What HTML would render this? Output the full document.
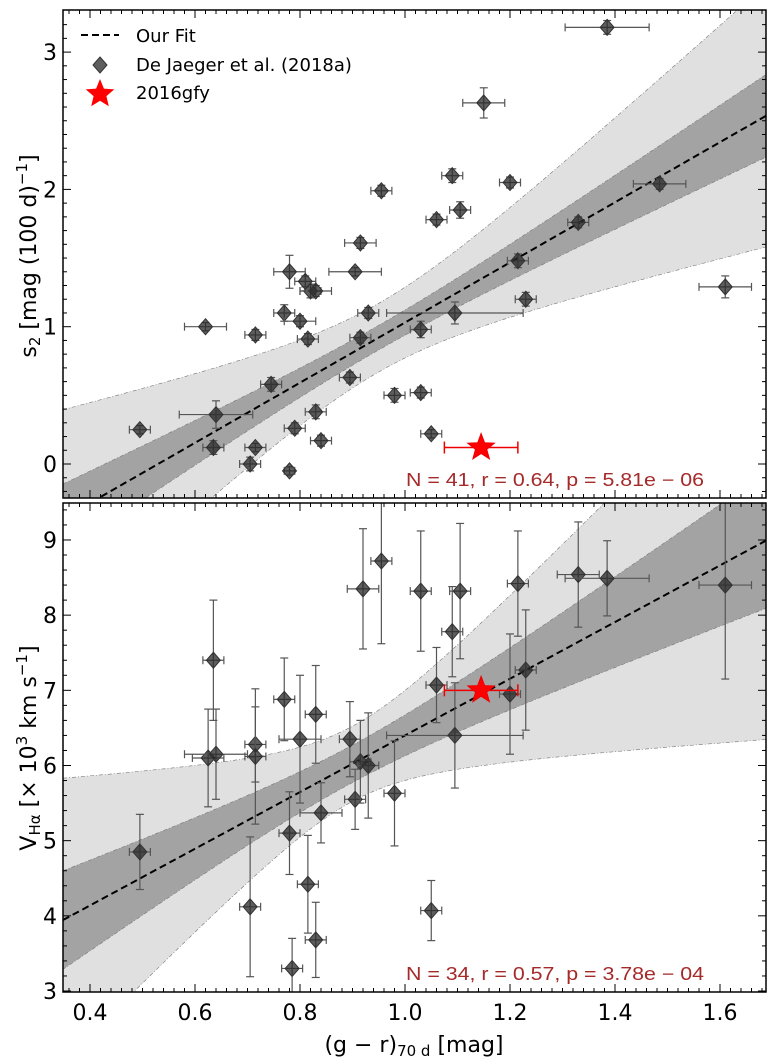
<!DOCTYPE html>
<html><head><meta charset="utf-8"><style>
body{margin:0;background:#fff;}
svg{display:block;font-family:"DejaVu Sans","Liberation Sans",sans-serif;}
</style></head><body>
<svg id="chart" width="771" height="1059" xmlns="http://www.w3.org/2000/svg"></svg>
<script>
// ---- data ----
const topX=[0.495,0.62,0.635,0.64,0.705,0.715,0.715,0.745,0.77,0.78,0.78,0.79,0.80,0.81,0.815,0.82,0.83,0.83,0.84,0.895,0.905,0.915,0.915,0.93,0.955,0.98,1.03,1.03,1.05,1.06,1.09,1.095,1.105,1.15,1.20,1.215,1.23,1.33,1.385,1.485,1.61];
const topY=[0.25,1.0,0.12,0.36,0.0,0.12,0.94,0.58,1.1,1.4,-0.05,0.26,1.04,1.33,0.91,1.26,0.38,1.26,0.17,0.63,1.4,0.92,1.61,1.1,1.99,0.5,0.98,0.52,0.22,1.78,2.1,1.1,1.85,2.63,2.05,1.48,1.2,1.76,3.18,2.04,1.29];
const topXerr=[0.02,0.04,0.02,0.07,0.02,0.02,0.02,0.02,0.02,0.03,0.01,0.02,0.03,0.02,0.02,0.02,0.02,0.03,0.02,0.02,0.05,0.02,0.03,0.02,0.02,0.02,0.02,0.02,0.02,0.02,0.02,0.13,0.02,0.04,0.02,0.02,0.02,0.02,0.08,0.05,0.05];
const topYerr=[0.03,0.03,0.05,0.1,0.05,0.03,0.04,0.05,0.06,0.12,0.03,0.04,0.04,0.04,0.04,0.05,0.05,0.04,0.04,0.04,0.03,0.04,0.04,0.04,0.04,0.05,0.06,0.04,0.03,0.04,0.05,0.08,0.06,0.11,0.04,0.05,0.05,0.04,0.05,0.04,0.08];
const botX=[0.495,0.625,0.635,0.64,0.705,0.715,0.715,0.77,0.78,0.785,0.80,0.815,0.83,0.83,0.84,0.895,0.905,0.915,0.92,0.93,0.955,0.98,1.03,1.05,1.06,1.09,1.095,1.105,1.20,1.215,1.23,1.33,1.385,1.61];
const botY=[4.85,6.1,7.4,6.15,4.12,6.28,6.12,6.88,5.1,3.3,6.35,4.42,3.68,6.68,5.37,6.35,5.55,6.05,8.35,6.0,8.72,5.63,8.32,4.07,7.07,7.78,6.4,8.32,6.95,8.42,7.27,8.54,8.49,8.4];
const botXerr=[0.02,0.03,0.02,0.06,0.02,0.02,0.02,0.02,0.02,0.02,0.04,0.02,0.02,0.02,0.04,0.02,0.02,0.02,0.03,0.02,0.02,0.02,0.02,0.02,0.02,0.02,0.13,0.02,0.02,0.02,0.02,0.04,0.08,0.05];
const botYerr=[0.5,0.65,0.8,0.6,0.93,0.5,0.9,0.55,0.55,0.4,0.85,0.65,0.5,0.65,0.4,0.5,0.4,0.55,0.8,0.7,1.1,0.7,0.8,0.4,0.5,0.6,0.7,0.9,0.8,0.7,0.8,0.7,0.5,1.25];
const starTop=[1.145,0.12,0.07];
const starBot=[1.145,7.0,0.07];
const xTicks=[0.4,0.6,0.8,1.0,1.2,1.4,1.6];
const xTickLabels=["0.4","0.6","0.8","1.0","1.2","1.4","1.6"];
const topTicks=[0,1,2,3];
const botTicks=[3,4,5,6,7,8,9];
const topFit=[2.19,-1.16]; // slope, intercept
const botFit=[3.77,2.63];

// ---- layout ----
const NS="http://www.w3.org/2000/svg";
const svg=document.getElementById('chart');
const L=63,R=766;
const xs=v=>90+(v-0.4)*525;
const xmin=0.4-27/525, xmax=0.4+(R-90)/525;
const P1={t:10,b:498,ys:v=>464-v*137.3};
const P2={t:503,b:992,ys:v=>991-(v-3)*75.17};
function el(tag,attrs,parent){const e=document.createElementNS(NS,tag);for(const k in attrs)e.setAttribute(k,attrs[k]);(parent||svg).appendChild(e);return e;}

function drawPanel(P,name,X,Y,XE,YE,star,fit,yticks,yminor,ymin,ymax,bands,statText){
  const g=el('g',{});
  
  
  const clipId=name+'clip';
  const cp=el('clipPath',{id:clipId},g);el('rect',{x:L,y:P.t,width:R-L,height:P.b-P.t},cp);
  const pg=el('g',{'clip-path':'url(#'+clipId+')'},g);
  const xm=bands[4];
  function band(c0,k,fill){
    let up=[],lo=[];
    for(let i=0;i<=100;i++){const x=xmin+(xmax-xmin)*i/100;const y=fit[0]*x+fit[1];const h=Math.sqrt(c0*c0+(k*(x-xm))**2);up.push([xs(x),P.ys(y+h)]);lo.push([xs(x),P.ys(y-h)]);}
    const pts=up.concat(lo.reverse()).map(p=>p.join(',')).join(' ');
    const b=el('polygon',{points:pts,fill:fill,stroke:'#777','stroke-width':0.6,'stroke-dasharray':'4,2,1,2'},pg);
    
    
  }
  band(bands[0],bands[1],'#e0e0e0');
  band(bands[2],bands[3],'#a3a3a3');
  const fl=el('line',{x1:xs(xmin),y1:P.ys(fit[0]*xmin+fit[1]),x2:xs(xmax),y2:P.ys(fit[0]*xmax+fit[1]),stroke:'#000','stroke-width':2,'stroke-dasharray':'7,4'},pg);
  
  
  for(let i=0;i<X.length;i++){
    const cx=xs(X[i]),cy=P.ys(Y[i]);
    const eg=el('g',{stroke:'#555','stroke-width':1.2,fill:'none'},pg);
    
    
    const x1=xs(X[i]-XE[i]),x2=xs(X[i]+XE[i]),y1=P.ys(Y[i]-YE[i]),y2=P.ys(Y[i]+YE[i]);
    el('line',{x1:x1,y1:cy,x2:x2,y2:cy},eg);el('line',{x1:cx,y1:y1,x2:cx,y2:y2},eg);
    el('line',{x1:x1,y1:cy-4,x2:x1,y2:cy+4},eg);el('line',{x1:x2,y1:cy-4,x2:x2,y2:cy+4},eg);
    el('line',{x1:cx-4,y1:y1,x2:cx+4,y2:y1},eg);el('line',{x1:cx-4,y1:y2,x2:cx+4,y2:y2},eg);
    const d=el('polygon',{points:`${cx},${cy-8} ${cx+7},${cy} ${cx},${cy+8} ${cx-7},${cy}`,fill:'rgba(40,40,40,0.75)',stroke:'#333','stroke-width':1},pg);
    
    
  }
  const sx=xs(star[0]),sy=P.ys(star[1]);
  const sg=el('g',{stroke:'#e00','stroke-width':1.5},pg);
  el('line',{x1:xs(star[0]-star[2]),y1:sy,x2:xs(star[0]+star[2]),y2:sy},sg);
  el('line',{x1:xs(star[0]-star[2]),y1:sy-6,x2:xs(star[0]-star[2]),y2:sy+6},sg);
  el('line',{x1:xs(star[0]+star[2]),y1:sy-6,x2:xs(star[0]+star[2]),y2:sy+6},sg);
  const st=el('polygon',{points:starPts(sx,sy,14),fill:'#f00',stroke:'#e00'},pg);
  
  
  const tx=el('text',{x:406,y:P.b-12,'font-size':18,fill:'#a52a2a',textLength:298,lengthAdjust:'spacingAndGlyphs','font-family':'Liberation Sans, sans-serif'},g);
  tx.textContent=statText;
  
  
  const tg=el('g',{stroke:'#000','stroke-width':1},g);
  for(let v=0.36;v<=xmax+1e-9;v+=0.02){const x=xs(v);const major=Math.abs(Math.round(v*10)/10-v)<1e-6&&Math.round(v*10)%2==0;const len=major?8:4;
    el('line',{x1:x,y1:P.b,x2:x,y2:P.b-len},tg);el('line',{x1:x,y1:P.t,x2:x,y2:P.t+len},tg);}
  for(let v=Math.ceil(ymin/yminor)*yminor;v<=ymax;v+=yminor){const y=P.ys(v);const major=Math.abs(v-Math.round(v))<1e-6;const len=major?8:4;
    el('line',{x1:L,y1:y,x2:L+len,y2:y},tg);el('line',{x1:R,y1:y,x2:R-len,y2:y},tg);}
  yticks.forEach(v=>{const t=el('text',{x:L-6,y:P.ys(v)+8,'font-size':22,'text-anchor':'end'},g);t.textContent=v;
    
    });
  const fr=el('rect',{x:L,y:P.t,width:R-L,height:P.b-P.t,fill:'none',stroke:'#000','stroke-width':1.5},g);
  
  
}
function starPts(cx,cy,r){let p=[];for(let i=0;i<10;i++){const a=-Math.PI/2+i*Math.PI/5;const rr=i%2?r*0.42:r;p.push((cx+rr*Math.cos(a)).toFixed(1)+','+(cy+rr*Math.sin(a)).toFixed(1));}return p.join(' ');}

drawPanel(P1,'top',topX,topY,topXerr,topYerr,starTop,topFit,topTicks,0.1,-0.25,3.29,[0.25,1.25,0.09,0.39,0.95],'N = 41, r = 0.64, p = 5.81e − 06');
drawPanel(P2,'bottom',botX,botY,botXerr,botYerr,starBot,botFit,botTicks,0.2,3,9.49,[0.5,3.3,0.25,1.1,0.9],'N = 34, r = 0.57, p = 3.78e − 04');

xTicks.forEach((v,i)=>{const t=el('text',{x:xs(v),y:1020,'font-size':22,'text-anchor':'middle'});t.textContent=xTickLabels[i];
  
  });
</script>
<svg width="771" height="1059" style="position:absolute;left:0;top:0" xmlns="http://www.w3.org/2000/svg" font-family="DejaVu Sans, Liberation Sans, sans-serif">
  <text x="414" y="1052" font-size="22" text-anchor="middle">(g − r)<tspan font-size="15" dy="4">70 d</tspan><tspan dy="-4"> [mag]</tspan></text>
  <text transform="translate(36,256) rotate(-90)" font-size="22" text-anchor="middle">s<tspan font-size="15" dy="4">2</tspan><tspan dy="-4"> [mag (100 d)</tspan><tspan font-size="15" dy="-9">−1</tspan><tspan dy="9">]</tspan></text>
  <text transform="translate(36,748) rotate(-90)" font-size="22" text-anchor="middle">V<tspan font-size="15" dy="4">Hα</tspan><tspan dy="-4"> [× 10</tspan><tspan font-size="15" dy="-9">3</tspan><tspan dy="9"> km s</tspan><tspan font-size="15" dy="-9">−1</tspan><tspan dy="9">]</tspan></text>
  <g>
    <line x1="81" y1="35" x2="119" y2="35" stroke="#000" stroke-width="2" stroke-dasharray="7,4"/>
    <text x="136" y="42" font-size="18">Our Fit</text>
    <polygon points="100,57 107,65 100,73 93,65" fill="rgba(40,40,40,0.75)" stroke="#333"/>
    <text x="136" y="71" font-size="18">De Jaeger et al. (2018a)</text>
    <polygon points="100,79 103.9,88.6 114.3,89.4 106.4,96.1 108.8,106.2 100,100.7 91.2,106.2 93.6,96.1 85.7,89.4 96.1,88.6" fill="#f00"/>
    <text x="136" y="99" font-size="18">2016gfy</text>
  </g>
</svg>
</body></html>
